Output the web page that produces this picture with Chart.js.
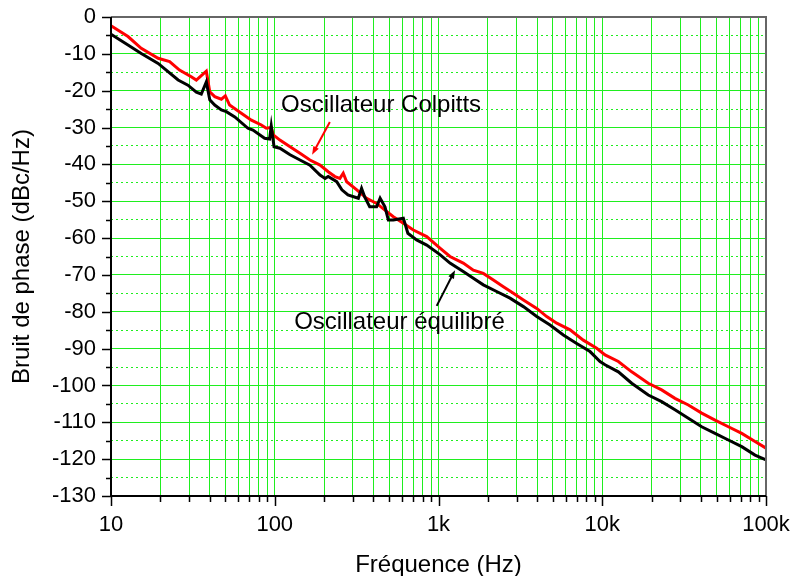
<!DOCTYPE html>
<html>
<head>
<meta charset="utf-8">
<script src="https://cdn.jsdelivr.net/npm/chart.js@4.4.1/dist/chart.umd.min.js"></script>
<style>
  body { margin: 0; background: #fff; }
  #wrap { width: 794px; height: 576px; }
</style>
</head>
<body>
<div id="wrap"><canvas id="phase-noise" width="794" height="576"></canvas></div>
<script>
// Colpitts oscillator (red)
const colpittsFreq = [10, 12.7, 15.3, 19.4, 22.8, 26.2, 30.9, 33.2, 38.2, 40.1, 43, 47.2, 49.9, 53, 62.5,
  72, 82.8, 88.8, 95.2, 98, 107.5, 124, 142.6, 164, 189, 212, 233, 250, 262, 275, 317, 364, 419, 471, 530,
  610, 702, 847, 1021, 1175, 1416, 1632, 1878, 2163, 2490, 2866, 3300, 3980, 4580, 5275, 6360, 7660, 9250,
  10400, 12540, 15130, 19100, 23050, 27800, 33550, 40480, 48830, 58900, 71100, 85700, 100000];
const colpittsNoise = [-2.4, -5.3, -8.5, -11.2, -12.1, -14.4, -16.2, -17.1, -14.7, -20.3, -21.6, -22.3, -21.4, -23.9, -26.1,
  -28, -29.3, -30.2, -30, -32, -33.4, -35.2, -37, -38.8, -40.2, -42, -43.3, -43.8, -42.4, -44.7, -46.9, -49.2, -50.6, -52.4, -54.2,
  -56, -57.8, -59.6, -62.7, -65, -66.8, -68.7, -69.6, -71.4, -73.2, -75, -76.8, -79.1, -81.3, -83.1, -84.9, -87.7, -89.9,
  -91.7, -93.5, -96.3, -99.4, -101.2, -103.5, -105.3, -107.5, -109.4, -111.2, -113, -115.2, -117];

// balanced oscillator (black)
const balancedFreq = [10, 12.7, 15.3, 19.4, 25.7, 29.5, 33.2, 35.6, 38.2, 40.1, 43, 47.2, 50.6, 57, 68.6,
  73.6, 86.7, 93, 95.2, 99, 107.5, 124, 142.6, 164, 189, 203, 212, 239, 257, 280, 324, 339, 354, 380, 419,
  440, 471, 494, 530, 610, 650, 735, 847, 1021, 1175, 1416, 1632, 1878, 2265, 2733, 3300, 3980, 4800, 5785, 6980,
  8420, 9690, 10400, 12540, 15130, 19100, 23050, 27800, 33550, 40480, 48830, 58900, 71100, 85700, 100000];
const balancedNoise = [-4.7, -7.6, -9.9, -12.6, -17.1, -18.5, -20.4, -20.9, -17.6, -22.5, -23.9, -25.2, -25.7, -27.1, -30.2,
  -30.7, -32.9, -33.1, -29.6, -35.2, -35.6, -37.4, -38.8, -40.2, -42.9, -43.8, -43.3, -44.7, -46.9, -48.3, -49.2, -46.5, -48.8, -51.5, -51.5,
  -49.2, -51.5, -55.1, -55.1, -54.6, -58.7, -60.5, -61.9, -64.5, -66.8, -69.1, -70.9, -72.7, -74.5, -76.3, -78.6, -81.3, -83.6, -86.3, -88.6,
  -90.8, -93.5, -94.4, -96.3, -99.4, -102.6, -104.4, -106.6, -108.9, -111.2, -113, -114.8, -116.6, -118.9, -120.2];

const majorFreqs = [10, 100, 1000, 10000, 100000];
const majorLabels = ["10", "100", "1k", "10k", "100k"];
const minorMultipliers = [2, 3, 4, 5, 6, 7, 8, 9];

// label text, anchor (freq, dB) and arrow (from -> to)
const notes = [
  { text: "Oscillateur Colpitts", at: [446, -23.9], from: [217, -28.5], to: [169, -37.4], color: "#ff0000" },
  { text: "Oscillateur équilibré", at: [578, -83], from: [975, -78.4], to: [1262, -68.7], color: "#000000" },
];

const xGridValues = [];
majorFreqs.forEach((f, i) => {
  xGridValues.push(f);
  if (i < majorFreqs.length - 1) minorMultipliers.forEach((m) => xGridValues.push(f * m));
});

const toPoints = (xs, ys) => xs.map((v, i) => ({ x: v, y: ys[i] }));
const FONT = "Liberation Sans, Arial, sans-serif";
const GREEN = "#1fee1f";

Chart.defaults.font.family = FONT;
Chart.defaults.color = "#000";

const decor = {
  id: "decor",
  afterDatasetsDraw(chart) {
    const { ctx, chartArea: a, scales: { x, y } } = chart;
    ctx.save();

    // frame
    ctx.lineWidth = 2;
    ctx.strokeStyle = "#666";
    ctx.beginPath();
    ctx.moveTo(a.left, a.top); ctx.lineTo(a.right, a.top); ctx.lineTo(a.right, a.bottom);
    ctx.stroke();
    ctx.strokeStyle = "#000";
    ctx.beginPath();
    ctx.moveTo(a.left, a.top); ctx.lineTo(a.left, a.bottom); ctx.lineTo(a.right, a.bottom);
    ctx.stroke();

    // tick marks
    ctx.lineWidth = 1.5;
    ctx.beginPath();
    xGridValues.forEach((v) => {
      const px = Math.round(x.getPixelForValue(v)) + 0.5;
      const len = majorFreqs.includes(v) ? 10 : 6;
      ctx.moveTo(px, a.bottom); ctx.lineTo(px, a.bottom + len);
    });
    for (let v = 0; v >= -130; v -= 5) {
      const py = Math.round(y.getPixelForValue(v)) + 0.5;
      const len = v % 10 === 0 ? 9 : 5;
      ctx.moveTo(a.left, py); ctx.lineTo(a.left - len, py);
    }
    ctx.stroke();

    // axis titles
    ctx.font = "24px " + FONT;
    ctx.fillStyle = "#000";
    ctx.textAlign = "center";
    ctx.textBaseline = "middle";
    ctx.fillText("Fréquence (Hz)", (a.left + a.right) / 2, a.bottom + 69);
    ctx.save();
    ctx.translate(22, (a.top + a.bottom) / 2);
    ctx.rotate(-Math.PI / 2);
    ctx.fillText("Bruit de phase (dBc/Hz)", 0, 0);
    ctx.restore();

    // annotations
    notes.forEach((n) => {
      ctx.fillStyle = "#000";
      ctx.fillText(n.text, x.getPixelForValue(n.at[0]), y.getPixelForValue(n.at[1]));
      const x0 = x.getPixelForValue(n.from[0]), y0 = y.getPixelForValue(n.from[1]);
      const x1 = x.getPixelForValue(n.to[0]), y1 = y.getPixelForValue(n.to[1]);
      const ang = Math.atan2(y1 - y0, x1 - x0);
      const head = 9;
      ctx.strokeStyle = n.color;
      ctx.fillStyle = n.color;
      ctx.lineWidth = 2;
      ctx.beginPath();
      ctx.moveTo(x0, y0);
      ctx.lineTo(x1 - head * 0.8 * Math.cos(ang), y1 - head * 0.8 * Math.sin(ang));
      ctx.stroke();
      ctx.beginPath();
      ctx.moveTo(x1, y1);
      ctx.lineTo(x1 - head * Math.cos(ang - 0.35), y1 - head * Math.sin(ang - 0.35));
      ctx.lineTo(x1 - head * Math.cos(ang + 0.35), y1 - head * Math.sin(ang + 0.35));
      ctx.closePath();
      ctx.fill();
    });
    ctx.restore();
  },
};

new Chart(document.getElementById("phase-noise"), {
  type: "line",
  data: {
    datasets: [
      {
        label: "Oscillateur équilibré",
        data: toPoints(balancedFreq, balancedNoise),
        borderColor: "#000",
        borderWidth: 3,
        pointRadius: 0,
        tension: 0,
      },
      {
        label: "Oscillateur Colpitts",
        data: toPoints(colpittsFreq, colpittsNoise),
        borderColor: "#ff0000",
        borderWidth: 3,
        pointRadius: 0,
        tension: 0,
      },
    ],
  },
  options: {
    responsive: false,
    animation: false,
    events: [],
    layout: { padding: { left: 0, top: 17, right: 28, bottom: 0 } },
    plugins: { legend: { display: false }, tooltip: { enabled: false } },
    scales: {
      x: {
        type: "logarithmic",
        min: 10,
        max: 100000,
        afterBuildTicks: (axis) => { axis.ticks = xGridValues.map((v) => ({ value: v })); },
        afterFit: (axis) => { axis.height = 80; axis.paddingLeft = 0; axis.paddingRight = 0; },
        grid: { color: GREEN, lineWidth: 1, drawTicks: false },
        border: { display: false },
        ticks: {
          autoSkip: false,
          maxRotation: 0,
          padding: 16,
          font: { size: 22 },
          callback: (value) => {
            const i = majorFreqs.indexOf(value);
            return i >= 0 ? majorLabels[i] : "";
          },
        },
      },
      y: {
        min: -130,
        max: 0,
        afterFit: (axis) => { axis.width = 111; axis.paddingTop = 0; axis.paddingBottom = 0; },
        grid: { color: GREEN, lineWidth: 1, drawTicks: false },
        border: {
          display: false,
          dash: (c) => (c.tick && c.tick.value % 10 !== 0 ? [2, 3] : []),
        },
        ticks: {
          stepSize: 5,
          autoSkip: false,
          padding: 15,
          font: { size: 22 },
          callback: (value) => (value % 10 === 0 ? String(value) : ""),
        },
      },
    },
  },
  plugins: [decor],
});
</script>
</body>
</html>
